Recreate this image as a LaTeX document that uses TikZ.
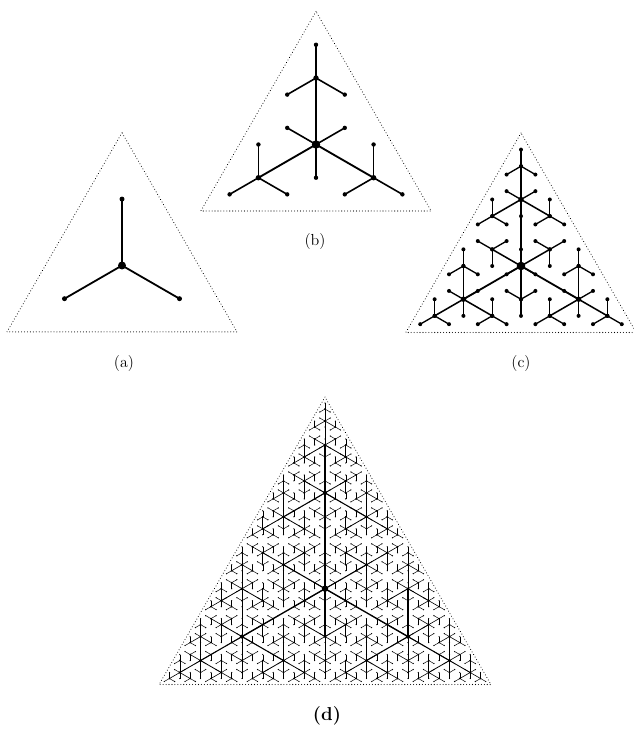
\documentclass[tikz,border=0pt]{standalone}
\usepackage{tikz}
\tikzset{
  frame/.style={line width=0.8pt, dash pattern=on 0.01pt off 2.2pt, line cap=round},
  caption/.style={font=\fontsize{12}{14}\selectfont, inner sep=0pt},
}
% dotted outline: centre x, centre y, reach
\newcommand{\gaskframe}[3]{%
  \draw[frame] (#1,#2) ++(90:{2*#3}) -- ++(240:{2*sqrt(3)*#3}) -- ++(0:{2*sqrt(3)*#3}) -- cycle;
}
% tree: centre x, centre y, reach, angle, depth
\newcommand{\gasktree}[5]{%
  \begingroup
  \ifnum#5>0
    \pgfmathsetmacro{\halfr}{#3/2}
    \pgfmathtruncatemacro{\dnext}{#5-1}
    \pgfmathsetmacro{\flipang}{#4+180}
    \pgfmathsetmacro{\twigw}{\twiglist[#5]}
    \foreach \k in {0,1,2}{
      \pgfmathsetmacro{\cx}{#1+#3*cos(#4+120*\k)}
      \pgfmathsetmacro{\cy}{#2+#3*sin(#4+120*\k)}
      \draw[line width=\twigw pt] (#1,#2) -- (\cx,\cy);
      \edef\gasknext{\noexpand\gasktree{\cx}{\cy}{\halfr}{#4}{\dnext}}\gasknext
    }
    \edef\gasknext{\noexpand\gasktree{#1}{#2}{\halfr}{\flipang}{\dnext}}\gasknext
  \fi
  \pgfmathsetmacro{\dotr}{\dotlist[#5]}
  \fill (#1,#2) circle[radius=\dotr];
  \endgroup
}

\begin{document}
\begin{tikzpicture}[x=0.75pt, y=0.75pt]
  \useasboundingbox (0,0) rectangle (634,736);

  % (a)
  \gaskframe{122}{470.5}{66.4}
  \def\twiglist{{0,1.35}}
  \def\dotlist{{2.5,4.0}}
  \gasktree{122}{470.5}{66.4}{90}{1}
  \node[caption] (capa) at (124,372) {(a)};

  % (b)
  \gaskframe{316}{591.5}{66.5}
  \def\twiglist{{0,1.2,1.4}}
  \def\dotlist{{2.2,2.7,4.2}}
  \gasktree{316}{591.5}{66.5}{90}{2}
  \node[caption] (capb) at (315,494) {(b)};

  % (c)
  \gaskframe{521}{470}{66.5}
  \def\twiglist{{0,1.0,1.15,1.35}}
  \def\dotlist{{2.0,2.1,2.7,4.3}}
  \gasktree{521}{470}{66.5}{90}{3}
  \node[caption] (capc) at (521,372) {(c)};

  % (d)
  \gaskframe{325}{147.3}{95.8}
  \def\twiglist{{0,0.35,0.45,0.6,0.8,1.0}}
  \def\dotlist{{0.65,0.9,1.1,1.4,2.1,3.2}}
  \gasktree{325}{147.3}{95.8}{90}{5}
  \node[caption, font=\fontsize{14}{16}\selectfont\bfseries] (capd) at (327,20) {(d)};
\end{tikzpicture}
\end{document}
